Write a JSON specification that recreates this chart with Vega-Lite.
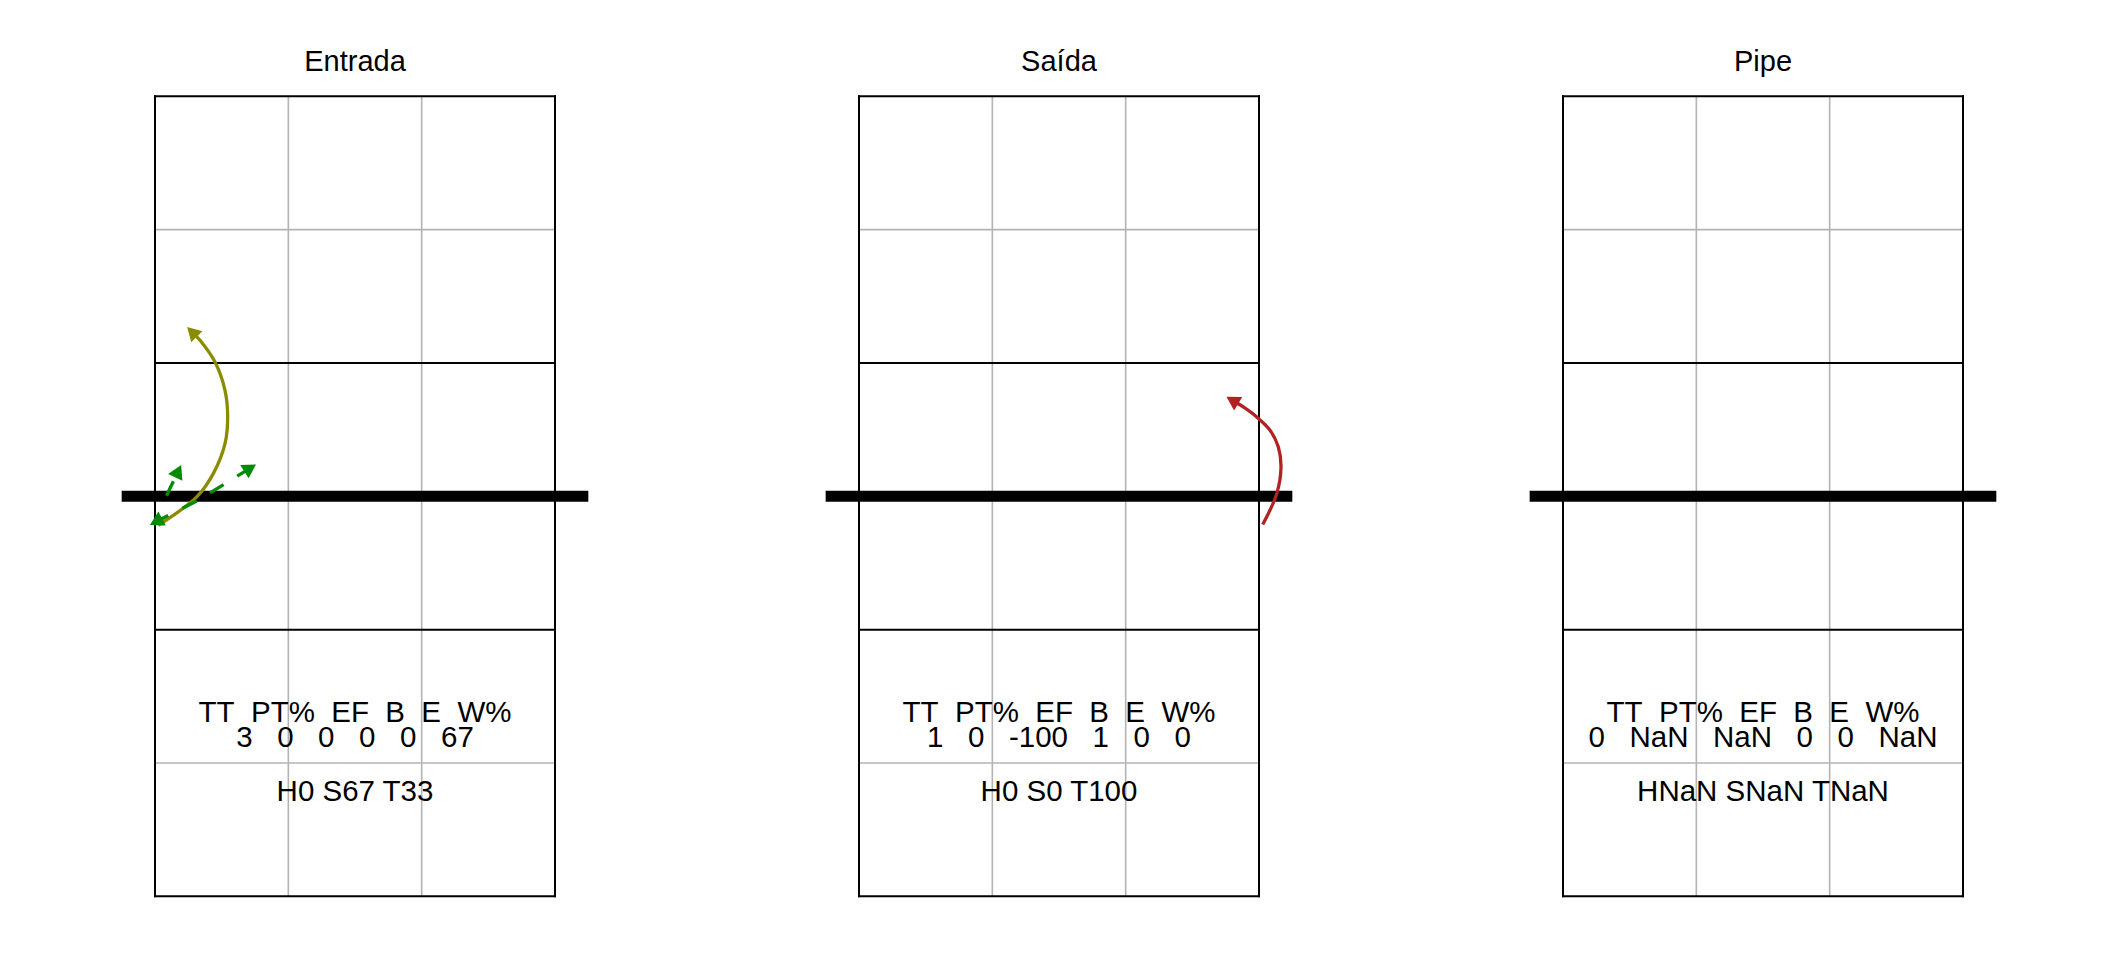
{
  "$schema": "https://vega.github.io/schema/vega-lite/v6.json",
  "background": "white",
  "padding": {"left": 116, "top": 47.3, "right": 0, "bottom": 0},
  "bounds": "flush",
  "spacing": 304,
  "config": {
    "view": {"stroke": null},
    "font": "Liberation Sans",
    "title": {"fontSize": 29, "fontWeight": "normal", "font": "Liberation Sans", "color": "black", "baseline": "alphabetic", "offset": 17.7, "anchor": "middle", "frame": "group"}
  },
  "datasets": {
    "court": [
      {"line": "grid", "x": 1.5, "x2": 1.5, "y": 0.5, "y2": 6.5},
      {"line": "grid", "x": 2.5, "x2": 2.5, "y": 0.5, "y2": 6.5},
      {"line": "grid", "x": 0.5, "x2": 3.5, "y": 5.5, "y2": 5.5},
      {"line": "grid", "x": 0.5, "x2": 3.5, "y": 1.5, "y2": 1.5},
      {"line": "court", "x": 0.5, "x2": 0.5, "y": 0.5, "y2": 6.5},
      {"line": "court", "x": 3.5, "x2": 3.5, "y": 0.5, "y2": 6.5},
      {"line": "court", "x": 0.5, "x2": 3.5, "y": 0.5, "y2": 0.5},
      {"line": "court", "x": 0.5, "x2": 3.5, "y": 6.5, "y2": 6.5},
      {"line": "court", "x": 0.5, "x2": 3.5, "y": 4.5, "y2": 4.5},
      {"line": "court", "x": 0.5, "x2": 3.5, "y": 2.5, "y2": 2.5},
      {"line": "net", "x": 0.25, "x2": 3.75, "y": 3.5, "y2": 3.5}
    ],
    "arrows": [
      {"panel": "Entrada", "id": "a1", "evento": "ataque", "resultado": "continuação", "seq": 1, "x": 0.525, "y": 3.2825},
      {"panel": "Entrada", "id": "a1", "evento": "ataque", "resultado": "continuação", "seq": 2, "x": 0.8128, "y": 3.495},
      {"panel": "Entrada", "id": "a1", "evento": "ataque", "resultado": "continuação", "seq": 3, "x": 0.937, "y": 3.67},
      {"panel": "Entrada", "id": "a1", "evento": "ataque", "resultado": "continuação", "seq": 4, "x": 1.025, "y": 3.895},
      {"panel": "Entrada", "id": "a1", "evento": "ataque", "resultado": "continuação", "seq": 5, "x": 1.045, "y": 4.095},
      {"panel": "Entrada", "id": "a1", "evento": "ataque", "resultado": "continuação", "seq": 6, "x": 1.025, "y": 4.295},
      {"panel": "Entrada", "id": "a1", "evento": "ataque", "resultado": "continuação", "seq": 7, "x": 0.95, "y": 4.507},
      {"panel": "Entrada", "id": "a1", "evento": "ataque", "resultado": "continuação", "seq": 8, "x": 0.8375, "y": 4.67},
      {"panel": "Entrada", "id": "a1", "evento": "ataque", "resultado": "continuação", "seq": 9, "x": 0.7775, "y": 4.733},
      {"panel": "Entrada", "id": "g1", "evento": "cobertura", "resultado": "cobertura", "seq": 1, "x": 0.586, "y": 3.504},
      {"panel": "Entrada", "id": "g1", "evento": "cobertura", "resultado": "cobertura", "seq": 2, "x": 0.674, "y": 3.688},
      {"panel": "Entrada", "id": "g2", "evento": "cobertura", "resultado": "cobertura", "seq": 1, "x": 0.9125, "y": 3.525},
      {"panel": "Entrada", "id": "g2", "evento": "cobertura", "resultado": "cobertura", "seq": 2, "x": 1.214, "y": 3.712},
      {"panel": "Entrada", "id": "g3", "evento": "cobertura", "resultado": "cobertura", "seq": 1, "x": 0.8128, "y": 3.465},
      {"panel": "Entrada", "id": "g3", "evento": "cobertura", "resultado": "cobertura", "seq": 2, "x": 0.5075, "y": 3.309},
      {"panel": "Saída", "id": "r1", "evento": "ataque", "resultado": "erro", "seq": 1, "x": 3.528, "y": 3.288},
      {"panel": "Saída", "id": "r1", "evento": "ataque", "resultado": "erro", "seq": 2, "x": 3.633, "y": 3.52},
      {"panel": "Saída", "id": "r1", "evento": "ataque", "resultado": "erro", "seq": 3, "x": 3.665, "y": 3.72},
      {"panel": "Saída", "id": "r1", "evento": "ataque", "resultado": "erro", "seq": 4, "x": 3.645, "y": 3.87},
      {"panel": "Saída", "id": "r1", "evento": "ataque", "resultado": "erro", "seq": 5, "x": 3.583, "y": 3.995},
      {"panel": "Saída", "id": "r1", "evento": "ataque", "resultado": "erro", "seq": 6, "x": 3.483, "y": 4.095},
      {"panel": "Saída", "id": "r1", "evento": "ataque", "resultado": "erro", "seq": 7, "x": 3.382, "y": 4.17},
      {"panel": "Saída", "id": "r1", "evento": "ataque", "resultado": "erro", "seq": 8, "x": 3.2998, "y": 4.22}
    ],
    "heads": [
      {"panel": "Entrada", "id": "a1", "resultado": "continuação", "x": 0.7775, "y": 4.733, "angle": 315},
      {"panel": "Entrada", "id": "g1", "resultado": "cobertura", "x": 0.674, "y": 3.688, "angle": 25.5},
      {"panel": "Entrada", "id": "g2", "resultado": "cobertura", "x": 1.214, "y": 3.712, "angle": 58},
      {"panel": "Entrada", "id": "g3", "resultado": "cobertura", "x": 0.5075, "y": 3.309, "angle": 242},
      {"panel": "Saída", "id": "r1", "resultado": "erro", "x": 3.2998, "y": 4.22, "angle": 301}
    ],
    "stats": [
      {"panel": "Entrada", "y": 1.807, "texto": "TT\u00a0\u00a0PT%\u00a0\u00a0EF\u00a0\u00a0B\u00a0\u00a0E\u00a0\u00a0W%"},
      {"panel": "Entrada", "y": 1.62, "texto": "3\u00a0\u00a0\u00a00\u00a0\u00a0\u00a00\u00a0\u00a0\u00a00\u00a0\u00a0\u00a00\u00a0\u00a0\u00a067"},
      {"panel": "Entrada", "y": 1.2125, "texto": "H0 S67 T33"},
      {"panel": "Saída", "y": 1.807, "texto": "TT\u00a0\u00a0PT%\u00a0\u00a0EF\u00a0\u00a0B\u00a0\u00a0E\u00a0\u00a0W%"},
      {"panel": "Saída", "y": 1.62, "texto": "1\u00a0\u00a0\u00a00\u00a0\u00a0\u00a0-100\u00a0\u00a0\u00a01\u00a0\u00a0\u00a00\u00a0\u00a0\u00a00"},
      {"panel": "Saída", "y": 1.2125, "texto": "H0 S0 T100"},
      {"panel": "Pipe", "y": 1.807, "texto": "TT\u00a0\u00a0PT%\u00a0\u00a0EF\u00a0\u00a0B\u00a0\u00a0E\u00a0\u00a0W%"},
      {"panel": "Pipe", "y": 1.62, "texto": "0\u00a0\u00a0\u00a0NaN\u00a0\u00a0\u00a0NaN\u00a0\u00a0\u00a00\u00a0\u00a0\u00a00\u00a0\u00a0\u00a0NaN"},
      {"panel": "Pipe", "y": 1.2125, "texto": "HNaN SNaN TNaN"}
    ]
  },
  "hconcat": [
    {
      "title": "Entrada",
      "width": 400,
      "height": 800,
      "layer": [
        {"data": {"name": "court"}, "transform": [{"filter": "datum.line == 'grid'"}],
         "mark": {"type": "rule", "color": "#b3b3b3", "strokeWidth": 1.6},
         "encoding": {
           "x": {"field": "x", "type": "quantitative", "scale": {"domain": [0.5, 3.5], "nice": false, "zero": false}, "axis": null},
           "x2": {"field": "x2"},
           "y": {"field": "y", "type": "quantitative", "scale": {"domain": [0.5, 6.5], "nice": false, "zero": false}, "axis": null},
           "y2": {"field": "y2"}}},
        {"data": {"name": "court"}, "transform": [{"filter": "datum.line == 'court'"}],
         "mark": {"type": "rule", "color": "black", "strokeWidth": 2, "strokeCap": "square"},
         "encoding": {"x": {"field": "x", "type": "quantitative"}, "x2": {"field": "x2"}, "y": {"field": "y", "type": "quantitative"}, "y2": {"field": "y2"}}},
        {"data": {"name": "court"}, "transform": [{"filter": "datum.line == 'net'"}],
         "mark": {"type": "rule", "color": "black", "strokeWidth": 11},
         "encoding": {"x": {"field": "x", "type": "quantitative"}, "x2": {"field": "x2"}, "y": {"field": "y", "type": "quantitative"}, "y2": {"field": "y2"}}},
        {"data": {"name": "arrows"}, "transform": [{"filter": "datum.panel == 'Entrada' && datum.evento == 'ataque'"}],
         "mark": {"type": "line", "strokeWidth": 3.3, "interpolate": "catmull-rom"},
         "encoding": {"x": {"field": "x", "type": "quantitative"}, "y": {"field": "y", "type": "quantitative"},
           "order": {"field": "seq", "type": "quantitative"}, "detail": {"field": "id"},
           "color": {"field": "resultado", "type": "nominal", "scale": {"domain": ["continuação", "erro", "cobertura"], "range": ["#8b8b00", "#b22222", "#008b00"]}, "legend": null}}},
        {"data": {"name": "arrows"}, "transform": [{"filter": "datum.panel == 'Entrada' && datum.evento == 'cobertura'"}],
         "mark": {"type": "line", "strokeWidth": 3.3, "strokeDash": [16, 16]},
         "encoding": {"x": {"field": "x", "type": "quantitative"}, "y": {"field": "y", "type": "quantitative"},
           "order": {"field": "seq", "type": "quantitative"}, "detail": {"field": "id"},
           "color": {"field": "resultado", "type": "nominal", "legend": null}}},
        {"data": {"name": "heads"}, "transform": [{"filter": "datum.panel == 'Entrada'"}],
         "mark": {"type": "point", "shape": "triangle-up", "filled": true, "opacity": 1, "size": 250},
         "encoding": {"x": {"field": "x", "type": "quantitative"}, "y": {"field": "y", "type": "quantitative"},
           "angle": {"field": "angle", "type": "quantitative", "scale": null},
           "color": {"field": "resultado", "type": "nominal", "legend": null}}},
        {"data": {"name": "stats"}, "transform": [{"filter": "datum.panel == 'Entrada'"}],
         "mark": {"type": "text", "fontSize": 29.5, "font": "Liberation Sans", "align": "center", "baseline": "alphabetic", "color": "black"},
         "encoding": {"x": {"datum": 2, "type": "quantitative"}, "y": {"field": "y", "type": "quantitative"}, "text": {"field": "texto"}}}
      ]
    },
    {
      "title": "Saída",
      "width": 400,
      "height": 800,
      "layer": [
        {"data": {"name": "court"}, "transform": [{"filter": "datum.line == 'grid'"}],
         "mark": {"type": "rule", "color": "#b3b3b3", "strokeWidth": 1.6},
         "encoding": {
           "x": {"field": "x", "type": "quantitative", "scale": {"domain": [0.5, 3.5], "nice": false, "zero": false}, "axis": null},
           "x2": {"field": "x2"},
           "y": {"field": "y", "type": "quantitative", "scale": {"domain": [0.5, 6.5], "nice": false, "zero": false}, "axis": null},
           "y2": {"field": "y2"}}},
        {"data": {"name": "court"}, "transform": [{"filter": "datum.line == 'court'"}],
         "mark": {"type": "rule", "color": "black", "strokeWidth": 2, "strokeCap": "square"},
         "encoding": {"x": {"field": "x", "type": "quantitative"}, "x2": {"field": "x2"}, "y": {"field": "y", "type": "quantitative"}, "y2": {"field": "y2"}}},
        {"data": {"name": "court"}, "transform": [{"filter": "datum.line == 'net'"}],
         "mark": {"type": "rule", "color": "black", "strokeWidth": 11},
         "encoding": {"x": {"field": "x", "type": "quantitative"}, "x2": {"field": "x2"}, "y": {"field": "y", "type": "quantitative"}, "y2": {"field": "y2"}}},
        {"data": {"name": "arrows"}, "transform": [{"filter": "datum.panel == 'Saída' && datum.evento == 'ataque'"}],
         "mark": {"type": "line", "strokeWidth": 3.3, "interpolate": "catmull-rom"},
         "encoding": {"x": {"field": "x", "type": "quantitative"}, "y": {"field": "y", "type": "quantitative"},
           "order": {"field": "seq", "type": "quantitative"}, "detail": {"field": "id"},
           "color": {"field": "resultado", "type": "nominal", "scale": {"domain": ["continuação", "erro", "cobertura"], "range": ["#8b8b00", "#b22222", "#008b00"]}, "legend": null}}},
        {"data": {"name": "heads"}, "transform": [{"filter": "datum.panel == 'Saída'"}],
         "mark": {"type": "point", "shape": "triangle-up", "filled": true, "opacity": 1, "size": 250},
         "encoding": {"x": {"field": "x", "type": "quantitative"}, "y": {"field": "y", "type": "quantitative"},
           "angle": {"field": "angle", "type": "quantitative", "scale": null},
           "color": {"field": "resultado", "type": "nominal", "legend": null}}},
        {"data": {"name": "stats"}, "transform": [{"filter": "datum.panel == 'Saída'"}],
         "mark": {"type": "text", "fontSize": 29.5, "font": "Liberation Sans", "align": "center", "baseline": "alphabetic", "color": "black"},
         "encoding": {"x": {"datum": 2, "type": "quantitative"}, "y": {"field": "y", "type": "quantitative"}, "text": {"field": "texto"}}}
      ]
    },
    {
      "title": "Pipe",
      "width": 400,
      "height": 800,
      "layer": [
        {"data": {"name": "court"}, "transform": [{"filter": "datum.line == 'grid'"}],
         "mark": {"type": "rule", "color": "#b3b3b3", "strokeWidth": 1.6},
         "encoding": {
           "x": {"field": "x", "type": "quantitative", "scale": {"domain": [0.5, 3.5], "nice": false, "zero": false}, "axis": null},
           "x2": {"field": "x2"},
           "y": {"field": "y", "type": "quantitative", "scale": {"domain": [0.5, 6.5], "nice": false, "zero": false}, "axis": null},
           "y2": {"field": "y2"}}},
        {"data": {"name": "court"}, "transform": [{"filter": "datum.line == 'court'"}],
         "mark": {"type": "rule", "color": "black", "strokeWidth": 2, "strokeCap": "square"},
         "encoding": {"x": {"field": "x", "type": "quantitative"}, "x2": {"field": "x2"}, "y": {"field": "y", "type": "quantitative"}, "y2": {"field": "y2"}}},
        {"data": {"name": "court"}, "transform": [{"filter": "datum.line == 'net'"}],
         "mark": {"type": "rule", "color": "black", "strokeWidth": 11},
         "encoding": {"x": {"field": "x", "type": "quantitative"}, "x2": {"field": "x2"}, "y": {"field": "y", "type": "quantitative"}, "y2": {"field": "y2"}}},
        {"data": {"name": "stats"}, "transform": [{"filter": "datum.panel == 'Pipe'"}],
         "mark": {"type": "text", "fontSize": 29.5, "font": "Liberation Sans", "align": "center", "baseline": "alphabetic", "color": "black"},
         "encoding": {"x": {"datum": 2, "type": "quantitative"}, "y": {"field": "y", "type": "quantitative"}, "text": {"field": "texto"}}}
      ]
    }
  ]
}
